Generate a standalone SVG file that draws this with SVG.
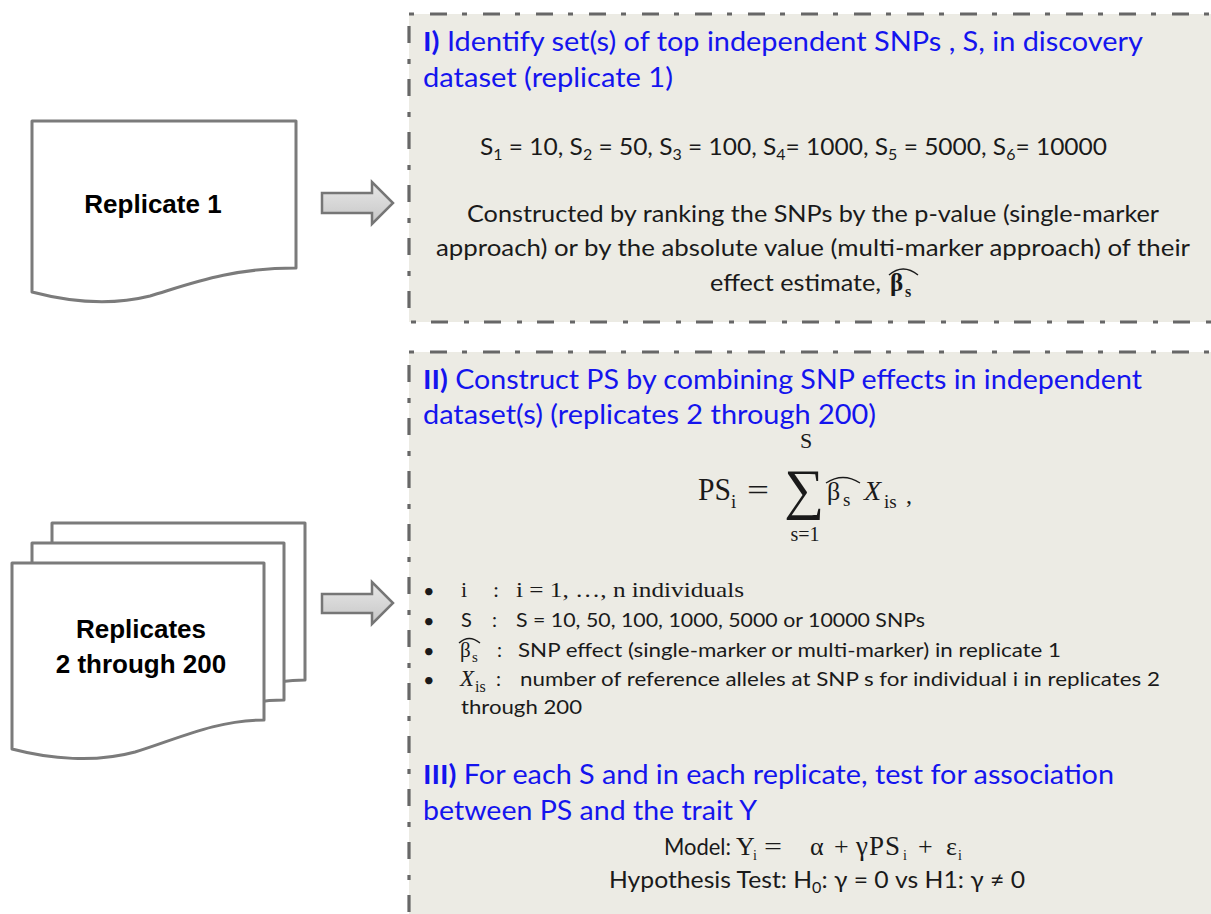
<svg xmlns="http://www.w3.org/2000/svg" width="1211" height="914" viewBox="0 0 1211 914">
<defs>
<linearGradient id="arrowFill" x1="0" y1="0" x2="0" y2="1">
<stop offset="0" stop-color="#e8e8e8"/>
<stop offset="1" stop-color="#c6c6c6"/>
</linearGradient>
</defs>
<style>
.panel{fill:#ecebe4;stroke:#676767;stroke-width:3.2;stroke-dasharray:5 16 17 15}
.doc{fill:#ffffff;stroke:#7b7b7b;stroke-width:3;stroke-linejoin:round}
.arrow{fill:url(#arrowFill);stroke:#767676;stroke-width:2.5;stroke-linejoin:miter}
.lbl{font-family:"Liberation Sans",Arial,sans-serif;font-weight:bold;font-size:26px;fill:#000;text-anchor:middle}
.title{font-family:Lato,"Liberation Sans",sans-serif;font-size:27px;fill:#1414ee}
.body{font-family:Lato,"Liberation Sans",sans-serif;font-size:23px;fill:#1a1a1a}
.small{font-family:Lato,"Liberation Sans",sans-serif;font-size:20px;fill:#1a1a1a}
.math{font-family:"Liberation Serif","Times New Roman",serif;fill:#1a1a1a}
.hat{fill:none;stroke:#1a1a1a;stroke-width:1.4}
</style>

<g id="panel-discovery">
<rect class="panel" x="409" y="14" width="830" height="308"/>
<text class="title" x="423" y="51" textLength="720" lengthAdjust="spacingAndGlyphs"><tspan font-weight="bold">I)</tspan> Identify set(s) of top independent SNPs , S, in discovery</text>
<text class="title" x="423" y="87" textLength="250" lengthAdjust="spacingAndGlyphs">dataset (replicate 1)</text>
<text class="body" x="480" y="155" textLength="627" lengthAdjust="spacingAndGlyphs">S<tspan dy="5" font-size="15">1</tspan><tspan dy="-5"> = 10, S</tspan><tspan dy="5" font-size="15">2</tspan><tspan dy="-5"> = 50, S</tspan><tspan dy="5" font-size="15">3</tspan><tspan dy="-5"> = 100, S</tspan><tspan dy="5" font-size="15">4</tspan><tspan dy="-5">= 1000, S</tspan><tspan dy="5" font-size="15">5</tspan><tspan dy="-5"> = 5000, S</tspan><tspan dy="5" font-size="15">6</tspan><tspan dy="-5">= 10000</tspan></text>
<text class="body" x="467" y="222" textLength="692" lengthAdjust="spacingAndGlyphs">Constructed by ranking the SNPs by the p-value (single-marker</text>
<text class="body" x="436" y="256" textLength="754" lengthAdjust="spacingAndGlyphs">approach) or by the absolute value (multi-marker approach) of their</text>
<text class="body" x="710" y="291" textLength="171" lengthAdjust="spacingAndGlyphs">effect estimate,</text>
<text class="math" x="890" y="291" font-size="25" font-weight="bold">β</text>
<text class="math" x="905" y="297" font-size="16" font-weight="bold">s</text>
<path class="hat" d="M889,275 Q903,263 918,275" stroke-width="1.8"/>
</g>

<g id="panel-construct">
<rect class="panel" x="409" y="352" width="830" height="600"/>
<text class="title" x="423" y="389" textLength="719" lengthAdjust="spacingAndGlyphs"><tspan font-weight="bold">II)</tspan> Construct PS by combining SNP effects in independent</text>
<text class="title" x="423" y="424" textLength="453" lengthAdjust="spacingAndGlyphs">dataset(s) (replicates 2 through 200)</text>

<text class="math" x="698" y="500" font-size="31" textLength="33" lengthAdjust="spacingAndGlyphs">PS</text>
<text class="math" x="731" y="508" font-size="19">i</text>
<text class="math" x="747" y="500" font-size="30" textLength="22" lengthAdjust="spacingAndGlyphs">=</text>
<text class="math" x="806" y="448" font-size="22" text-anchor="middle">S</text>
<text class="math" x="804" y="508" font-size="56" text-anchor="middle">∑</text>
<text class="math" x="805" y="541" font-size="20" text-anchor="middle">s=1</text>
<text class="math" x="827" y="500" font-size="26">β</text>
<text class="math" x="843" y="506" font-size="19">s</text>
<path class="hat" d="M826,483 Q843,472 860,483"/>
<text class="math" x="864" y="500" font-size="28" font-style="italic">X</text>
<text class="math" x="884" y="508" font-size="19">is</text>
<text class="math" x="906" y="503" font-size="24">,</text>

<text class="small" x="423" y="598">•</text>
<text class="small" x="423" y="628">•</text>
<text class="small" x="423" y="658">•</text>
<text class="small" x="423" y="687">•</text>

<text class="math" x="461" y="597" font-size="22">i</text>
<text class="math" x="493" y="597" font-size="22">:</text>
<text class="math" x="516" y="597" font-size="22" textLength="228" lengthAdjust="spacingAndGlyphs">i = 1, …, n  individuals</text>

<text class="small" x="461" y="627">S</text>
<text class="small" x="492" y="627">:</text>
<text class="small" x="516" y="627" textLength="409" lengthAdjust="spacingAndGlyphs">S = 10, 50, 100, 1000, 5000 or 10000 SNPs</text>

<text class="math" x="460" y="657" font-size="21">β</text>
<text class="math" x="472" y="662" font-size="15">s</text>
<path class="hat" d="M459,643 Q469,634 480,643" stroke-width="1.2"/>
<text class="small" x="497" y="657">:</text>
<text class="small" x="518" y="657" textLength="543" lengthAdjust="spacingAndGlyphs">SNP effect (single-marker or multi-marker) in replicate 1</text>

<text class="math" x="460" y="686" font-size="23" font-style="italic">X</text>
<text class="math" x="475" y="692" font-size="16">is</text>
<text class="small" x="496" y="686">:</text>
<text class="small" x="520" y="686" textLength="640" lengthAdjust="spacingAndGlyphs">number of reference alleles at SNP s for individual i in replicates 2</text>
<text class="small" x="461" y="714" textLength="121" lengthAdjust="spacingAndGlyphs">through 200</text>

<text class="title" x="423" y="784" textLength="691" lengthAdjust="spacingAndGlyphs"><tspan font-weight="bold">III)</tspan> For each S and in each replicate, test for association</text>
<text class="title" x="423" y="820" textLength="334" lengthAdjust="spacingAndGlyphs">between PS and the trait Y</text>

<text class="body" x="664" y="855" textLength="67" lengthAdjust="spacingAndGlyphs">Model:</text>
<text class="math" x="736" y="855" font-size="26">Y</text>
<text class="math" x="753" y="860" font-size="14">i</text>
<text class="math" x="764" y="855" font-size="26" textLength="18" lengthAdjust="spacingAndGlyphs">=</text>
<text class="math" x="810" y="855" font-size="26">α</text>
<text class="math" x="834" y="855" font-size="26">+</text>
<text class="math" x="856" y="855" font-size="27" letter-spacing="1">γPS</text>
<text class="math" x="903" y="860" font-size="14">i</text>
<text class="math" x="918" y="855" font-size="26">+</text>
<text class="math" x="946" y="855" font-size="26">ε</text>
<text class="math" x="958" y="860" font-size="14">i</text>
<text class="body" x="609" y="888" textLength="416" lengthAdjust="spacingAndGlyphs">Hypothesis Test: H<tspan dy="5" font-size="15">0</tspan><tspan dy="-5">: γ = 0 vs H1: γ ≠ 0</tspan></text>
</g>

<g id="node-replicate-1">
<path class="doc" d="M32,121 L296,121 L296,268 C230,268 190,284 150,296 C110,306 70,302 32,292 Z"/>
<text class="lbl" x="153" y="213">Replicate 1</text>
</g>

<g id="node-replicates-2-200">
<path class="doc" d="M52,523 L305,523 L305,680 C255,680 215,700 175,712 C135,723 90,719 52,709 Z"/>
<path class="doc" d="M32,543 L284,543 L284,700 C235,700 195,720 155,732 C115,743 70,739 32,729 Z"/>
<path class="doc" d="M12,563 L264,563 L264,720 C215,720 175,740 135,752 C95,763 50,759 12,749 Z"/>
<text class="lbl" x="141" y="638">Replicates</text>
<text class="lbl" x="141" y="673">2 through 200</text>
</g>

<g id="connectors">
<path class="arrow" d="M322,193 L372,193 L372,182 L393,203 L372,224 L372,213 L322,213 Z"/>
<path class="arrow" d="M322,594 L372,594 L372,582 L393,603 L372,624 L372,613 L322,613 Z"/>
</g>
</svg>
